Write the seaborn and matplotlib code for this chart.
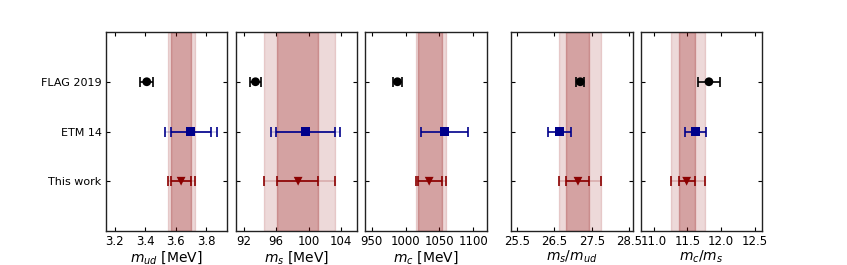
import numpy as np
import pandas as pd
import matplotlib
matplotlib.use("Agg")
import matplotlib.pyplot as plt
import seaborn as sns

# rows (y tick labels) from top to bottom
sources = ["FLAG 2019", "ETM 14", "This work"]

xlabels = [r"$m_{ud}$ [MeV]", r"$m_s$ [MeV]", r"$m_c$ [MeV]",
           r"$m_s/m_{ud}$", r"$m_c/m_s$"]

flag_val = [3.41, 93.44, 988, 27.19, 11.82]
flag_err = [0.044, 0.68, 7, 0.11, 0.16]

etm_val = [3.70, 99.6, 1058, 26.64, 11.62]
etm_err_stat = [0.13, 3.6, 35, 0.30, 0.16]
etm_err_tot = [0.17, 4.3, 35, 0.30, 0.16]

this_val = [3.636, 98.7, 1035, 27.13, 11.49]
this_in_lo = [3.569, 96.1, 1018, 26.81, 11.37]
this_in_hi = [3.703, 101.1, 1054, 27.43, 11.61]
this_out_lo = [3.548, 94.5, 1016, 26.63, 11.26]
this_out_hi = [3.727, 103.3, 1060, 27.75, 11.76]

xlims = [(3.14, 3.94), (91, 106), (940, 1120), (25.34, 28.59), (10.81, 12.61)]
xticks = [[3.2, 3.4, 3.6, 3.8], [92, 96, 100, 104], [950, 1000, 1050, 1100],
          [25.5, 26.5, 27.5, 28.5], [11.0, 11.5, 12.0, 12.5]]
xticklabels = [["3.2", "3.4", "3.6", "3.8"], ["92", "96", "100", "104"],
               ["950", "1000", "1050", "1100"],
               ["25.5", "26.5", "27.5", "28.5"], ["11.0", "11.5", "12.0", "12.5"]]

sns.set_style("ticks", {"xtick.direction": "in", "ytick.direction": "in"})
plt.rcParams["font.family"] = ["DejaVu Sans"]
plt.rcParams["text.color"] = "black"
plt.rcParams["axes.labelcolor"] = "black"
plt.rcParams["xtick.color"] = "black"
plt.rcParams["ytick.color"] = "black"

W, H = 847, 265
fig = plt.figure(figsize=(W / 100, H / 100), dpi=100)

lefts = [105.7, 235.7, 365.0, 511.0, 640.7]
ax_w = 121.6
bottom, top = 34, 233

ypos = {"FLAG 2019": 3, "ETM 14": 2, "This work": 1}
band = "darkred"

for i in range(5):
    ax = fig.add_axes([lefts[i] / W, bottom / H, ax_w / W, (top - bottom) / H])

    # bands for this work
    ax.axvspan(this_out_lo[i], this_out_hi[i], color=band, alpha=0.15, lw=1)
    ax.axvspan(this_in_lo[i], this_in_hi[i], color=band, alpha=0.25, lw=1)

    # FLAG
    ax.errorbar(flag_val[i], ypos["FLAG 2019"], xerr=flag_err[i], fmt="none",
                ecolor="black", capsize=3.5, capthick=1.2, elinewidth=1.2)

    # ETM: total (light line) and stat
    if etm_err_tot[i] > etm_err_stat[i]:
        c = ax.errorbar(etm_val[i], ypos["ETM 14"], xerr=etm_err_tot[i], fmt="none",
                        ecolor="darkblue", capsize=3.5, capthick=1.2, elinewidth=1.2)
        c[2][0].set_alpha(0.2)
    ax.errorbar(etm_val[i], ypos["ETM 14"], xerr=etm_err_stat[i], fmt="none",
                ecolor="darkblue", capsize=3.5, capthick=1.2, elinewidth=1.2)

    # this work: outer (light line) and inner
    c = ax.errorbar(this_val[i], ypos["This work"],
                    xerr=[[this_val[i] - this_out_lo[i]], [this_out_hi[i] - this_val[i]]],
                    fmt="none", ecolor="darkred", capsize=3.5, capthick=1.2, elinewidth=1.2)
    c[2][0].set_alpha(0.2)
    ax.errorbar(this_val[i], ypos["This work"],
                xerr=[[this_val[i] - this_in_lo[i]], [this_in_hi[i] - this_val[i]]],
                fmt="none", ecolor="darkred", capsize=3.5, capthick=1.2, elinewidth=1.2)

    pts = pd.DataFrame({
        "x": [flag_val[i], etm_val[i], this_val[i]],
        "y": [ypos[s] for s in sources],
        "src": sources,
    })
    sns.scatterplot(data=pts, x="x", y="y", hue="src", style="src",
                    palette=["black", "darkblue", "darkred"],
                    markers=["o", "s", "v"], s=40, edgecolor="none",
                    legend=False, ax=ax, zorder=5)

    ax.set_xlim(*xlims[i])
    ax.set_ylim(0, 4)
    ax.set_xticks(xticks[i])
    ax.set_xticklabels(xticklabels[i])
    ax.set_yticks([ypos[s] for s in sources])
    if i == 0:
        ax.set_yticklabels(sources)
    else:
        ax.set_yticklabels([])
    ax.set_ylabel("")
    ax.set_xlabel(xlabels[i], fontsize=10, labelpad=0.5)
    ax.tick_params(axis="both", direction="in", top=True, right=True,
                   labelsize=8.5, length=3, width=0.8, pad=3)
    ax.tick_params(axis="y", labelsize=8)
    for sp in ax.spines.values():
        sp.set_visible(True)
        sp.set_color("#222222")
        sp.set_linewidth(1.0)

fig.savefig("out.png", dpi=100)
